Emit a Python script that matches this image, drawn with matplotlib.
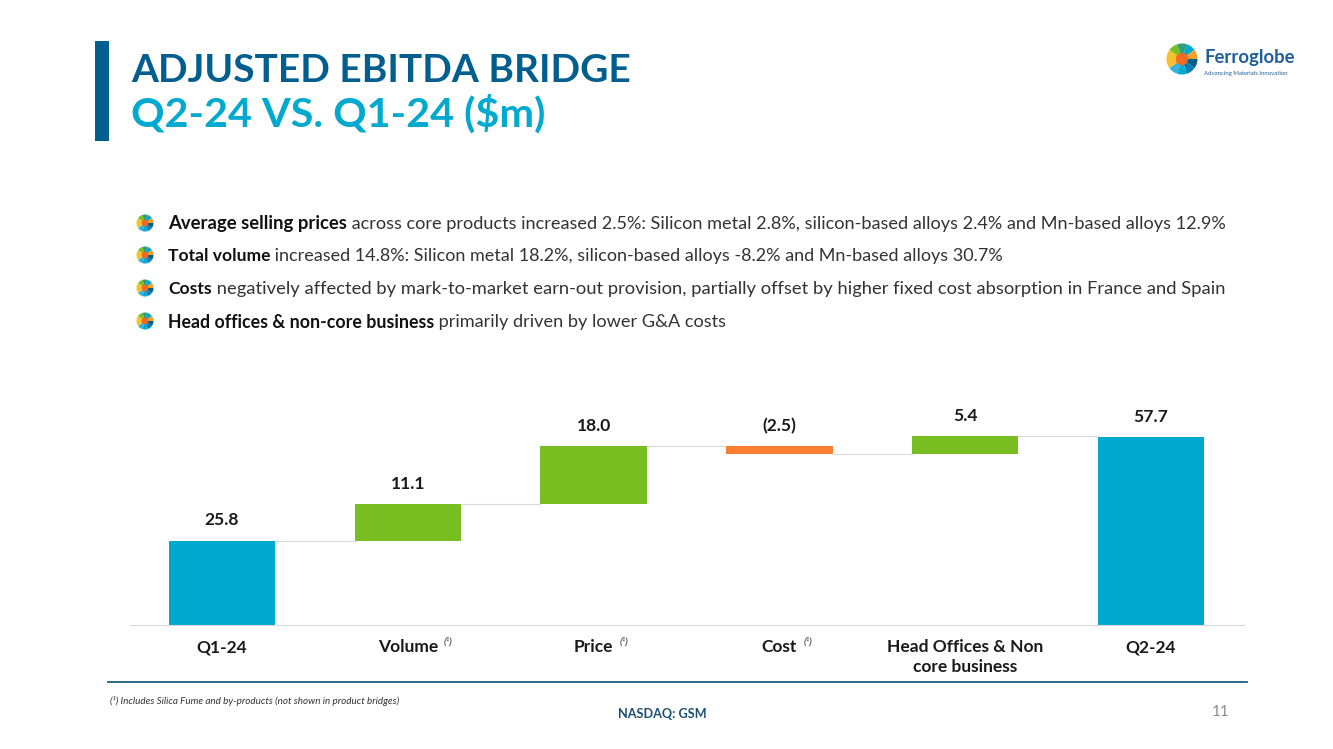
import numpy as np
import matplotlib
matplotlib.use("Agg")
import matplotlib.pyplot as plt
from matplotlib.patches import Rectangle, Wedge, Circle

plt.rcParams['font.family'] = ['Lato', 'DejaVu Sans']

# Chart data
categories = ['Q1-24', 'Volume', 'Price', 'Cost', 'Head Offices & Non\ncore business', 'Q2-24']
values = [25.8, 11.1, 18.0, -2.5, 5.4, 57.7]
value_labels = ['25.8', '11.1', '18.0', '(2.5)', '5.4', '57.7']
has_note = [False, True, True, True, False, False]
is_total = [True, False, False, False, False, True]

# Slide text
title_1 = 'ADJUSTED EBITDA BRIDGE'
title_2 = 'Q2-24 VS. Q1-24 ($m)'
bullets_bold = ['Average selling prices', 'Total volume', 'Costs', 'Head offices & non-core business']
bullets_rest = [
    ' across core products increased 2.5%: Silicon metal 2.8%, silicon-based alloys 2.4% and Mn-based alloys 12.9%',
    ' increased 14.8%: Silicon metal 18.2%, silicon-based alloys -8.2% and Mn-based alloys 30.7%',
    ' negatively affected by mark-to-market earn-out provision, partially offset by higher fixed cost absorption in France and Spain',
    ' primarily driven by lower G&A costs',
]
bullet_y = [224, 256, 289, 322]
bold_size = [13.3, 12.6, 12.6, 12.8]
rest_size = [13.05, 12.95, 13.2, 13.05]
footnote = '(¹) Includes Silica Fume and by-products (not shown in product bridges)'

DARK_BLUE = '#005f8f'
LIGHT_BLUE = '#00a9ce'
GREEN = '#78be20'
ORANGE = '#ff7f32'
W, H = 1333, 749
BAR_W = 0.572

fig = plt.figure(figsize=(W / 100, H / 100), dpi=100, facecolor='white')

# Full-figure axes in pixel coordinates for the slide furniture
bg = fig.add_axes([0, 0, 1, 1])
bg.set_xlim(0, W)
bg.set_ylim(H, 0)
bg.axis('off')

bg.add_patch(Rectangle((95, 41), 14, 100, color=DARK_BLUE, lw=0))
bg.text(131, 71, title_1, fontsize=28, fontweight='bold', color=DARK_BLUE, va='center')
bg.text(131, 114, title_2, fontsize=29.8, fontweight='bold', color=LIGHT_BLUE, va='center')


def globe(cx, cy, r, cols):
    # little multi-coloured ball used for the logo and the bullets
    n = len(cols)
    for k, c in enumerate(cols):
        bg.add_patch(Wedge((cx, cy), r, k * 360 / n, (k + 1) * 360 / n, color=c, lw=0))
    bg.add_patch(Circle((cx, cy), r * 0.4, color='#f26a21', lw=0))


logo_cols = ['#005f8f', '#0a7cba', '#00a9ce', '#35b0d8', '#f6c12c', '#f6c12c', '#78be20', '#2f9e7e', '#00a9ce', '#f6a02c']
globe(1182, 59, 15.5, logo_cols)
bg.text(1204, 57, 'Ferroglobe', fontsize=13.3, fontweight='bold', color='#1f5f99', va='center')
bg.text(1204, 73, 'Advancing Materials Innovation', fontsize=4.3, color='#1f5f99', va='center')

# Bullets: bold lead-in followed by regular text
renderer = fig.canvas.get_renderer()
for y, b, r, bs, rs in zip(bullet_y, bullets_bold, bullets_rest, bold_size, rest_size):
    globe(145, y - 1, 8.5, logo_cols)
    t = bg.text(168, y, b, fontsize=bs, fontweight='bold', color='#111111', va='center')
    x_end = t.get_window_extent(renderer).x1
    bg.text(x_end, y, r, fontsize=rs, color='#333333', va='center')

# Footer
bg.plot([108, 1247], [682, 682], color='#1b5e83', lw=1.3)
bg.text(110, 701, footnote, fontsize=7.1, style='italic', color='#333333', va='center')
bg.text(662, 714, 'NASDAQ: GSM', fontsize=9.1, fontweight='bold', color='#1b4f72', va='center', ha='center')
bg.text(1221, 712, '11', fontsize=11, color='#8c8c8c', va='center', ha='center')

# Bridge chart
ax_left, ax_right, ax_bottom, ax_top = 130, 1244, 624.5, 400
ax = fig.add_axes([ax_left / W, 1 - ax_bottom / H, (ax_right - ax_left) / W, (ax_bottom - ax_top) / H])
ax.patch.set_alpha(0)
ax.set_xlim(-0.495, 5.50)
ax.set_ylim(0, 69)

x = np.arange(len(categories))
ends = np.cumsum(values[:-1])
bottoms, heights, colors, tops = [], [], [], []
for i, v in enumerate(values):
    if is_total[i]:
        bottoms.append(0)
        heights.append(v)
        colors.append(LIGHT_BLUE)
        tops.append(v)
    else:
        bottoms.append(min(ends[i - 1], ends[i]))
        heights.append(abs(v))
        colors.append(GREEN if v > 0 else ORANGE)
        tops.append(max(ends[i - 1], ends[i]))

ax.bar(x, heights, bottom=bottoms, width=BAR_W, color=colors, linewidth=0)

# Connectors between consecutive bars
levels = list(ends) + [values[-1]]
for i in range(len(x) - 1):
    ax.plot([x[i] + BAR_W / 2, x[i + 1] - BAR_W / 2], [levels[i], levels[i]], color='#d9d9d9', lw=0.8, zorder=0)

for i, lab in enumerate(value_labels):
    ax.annotate(lab, (x[i], tops[i]), xytext=(0, 14.5), textcoords='offset points', ha='center',
                va='center', fontsize=12.6, fontweight='bold', color='#1a1a1a')

for s in ['top', 'left', 'right']:
    ax.spines[s].set_visible(False)
ax.spines['bottom'].set_color('#d9d9d9')
ax.spines['bottom'].set_linewidth(0.8)
ax.set_yticks([])
ax.set_xticks(x)
ax.set_xticklabels(categories, fontsize=12.5, fontweight='bold', color='#1a1a1a', linespacing=1.3, va='top')
ax.tick_params(axis='x', length=0, pad=10.5)

# (¹) markers next to the category labels
fig.canvas.draw()
for i, lab in enumerate(ax.get_xticklabels()):
    if has_note[i]:
        bb = lab.get_window_extent(fig.canvas.get_renderer())
        bg.text(bb.x1 + 6, H - bb.y1 + 3, '(¹)', fontsize=7.5, style='italic', color='#333333', va='center')

fig.savefig('out.png', dpi=100)
